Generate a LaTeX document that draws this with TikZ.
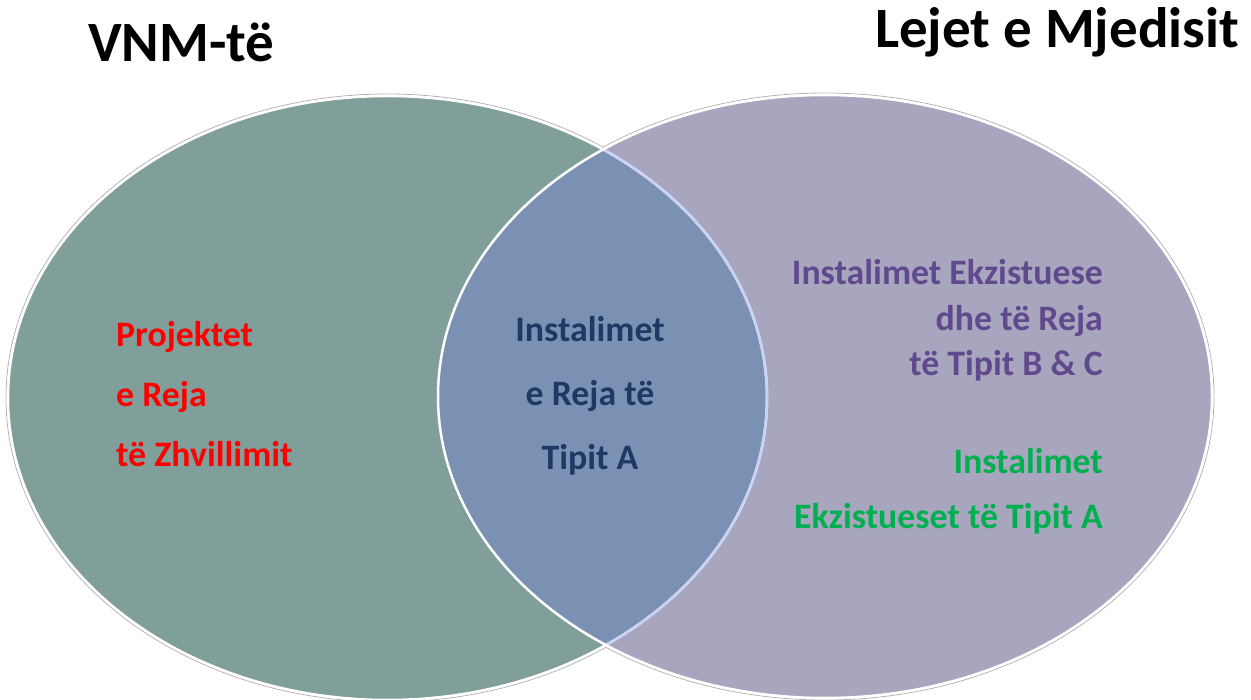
\documentclass[tikz,border=0pt]{standalone}
\usepackage{fontspec}
\setmainfont{Carlito}
\usepackage{tikz}
\usetikzlibrary{positioning}

\definecolor{vnmfill}{RGB}{128,158,154}
\definecolor{lejefill}{RGB}{168,165,190}
\definecolor{bothfill}{RGB}{122,145,180}
\definecolor{innerline}{RGB}{200,210,245}
\definecolor{redtext}{RGB}{255,0,0}
\definecolor{bluetext}{RGB}{31,56,100}
\definecolor{purpletext}{RGB}{96,73,140}
\definecolor{greentext}{RGB}{0,176,80}

\tikzset{
  title/.style={inner sep=0pt, font=\fontsize{57}{57}\selectfont\bfseries},
  label/.style={inner sep=0pt, font=\fontsize{35.8}{36}\selectfont\bfseries},
  rim/.style={draw=gray!60, line width=0.8pt},
  edge/.style={draw=white, line width=2.5pt}
}

\begin{document}
\begin{tikzpicture}[x=1pt,y=-1pt]
\useasboundingbox (0,0) rectangle (1251,700);

\coordinate (vnmc) at (387.5,398);
\coordinate (lejec) at (825,396.5);

% outer grey rims
\draw[rim] (vnmc) ellipse [x radius=381.5pt, y radius=304pt];
\draw[rim] (lejec) ellipse [x radius=389pt, y radius=303.5pt];

% the two sets
\fill[vnmfill] (vnmc) ellipse [x radius=379.5pt, y radius=302pt];
\fill[lejefill] (lejec) ellipse [x radius=387pt, y radius=301.5pt];
\begin{scope}
\clip (vnmc) ellipse [x radius=379.5pt, y radius=302pt];
\fill[bothfill] (lejec) ellipse [x radius=387pt, y radius=301.5pt];
\end{scope}

% white edges, the left one tinted where the right set lies over it
\draw[edge] (vnmc) ellipse [x radius=379.5pt, y radius=302pt];
\begin{scope}
\clip (lejec) ellipse [x radius=387pt, y radius=301.5pt];
\draw[edge, draw=innerline] (vnmc) ellipse [x radius=379.5pt, y radius=302pt];
\end{scope}
\draw[edge] (lejec) ellipse [x radius=387pt, y radius=301.5pt];

% titles
\node[title, anchor=base west] (vnm) at (88,62) {VNM-të};
\node[title, anchor=base west] (lejet) at (875,48) {Lejet e Mjedisit};

% left part
\node[label, text=redtext, anchor=base west] (proj1) at (116,347) {Projektet};
\node[label, text=redtext, anchor=base west] (proj2) at (116,407) {e Reja};
\node[label, text=redtext, anchor=base west] (proj3) at (116,467) {të Zhvillimit};

% middle part
\node[label, text=bluetext, anchor=base] (inst1) at (590,342) {Instalimet};
\node[label, text=bluetext, anchor=base] (inst2) at (590,406) {e Reja të};
\node[label, text=bluetext, anchor=base] (inst3) at (590,470) {Tipit A};

% right part
\node[label, text=purpletext, anchor=base east] (ekz1) at (1103,285) {Instalimet Ekzistuese};
\node[label, text=purpletext, anchor=base east] (ekz2) at (1103,331) {dhe të Reja};
\node[label, text=purpletext, anchor=base east] (ekz3) at (1103,376) {të Tipit B \& C};
\node[label, text=greentext, anchor=base east] (ekzA1) at (1103,474) {Instalimet};
\node[label, text=greentext, anchor=base east] (ekzA2) at (1103,528) {Ekzistueset të Tipit A};

\end{tikzpicture}
\end{document}
